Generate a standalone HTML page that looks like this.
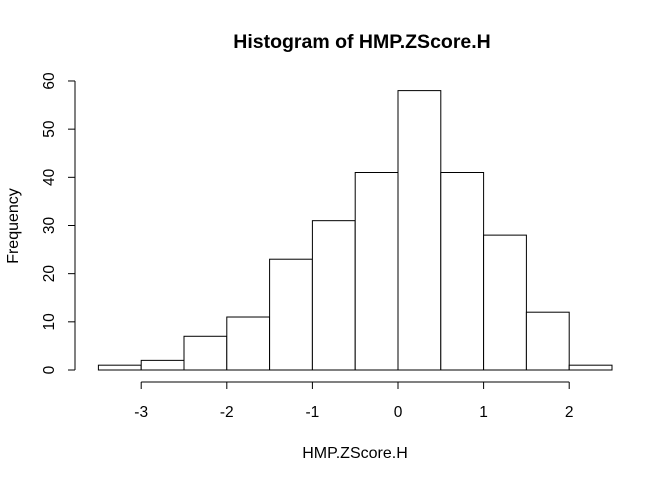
<!DOCTYPE html>
<html><head><meta charset="utf-8"><style>
html,body{margin:0;padding:0;background:#fff;}
svg text{font-family:"Liberation Sans",Arial,sans-serif;fill:#000;}
</style></head><body>
<svg id="chart" width="672" height="480" xmlns="http://www.w3.org/2000/svg">
<text x="362" y="48" text-anchor="middle" font-size="19.5" font-weight="bold">Histogram of HMP.ZScore.H</text>
<text x="355" y="458" text-anchor="middle" font-size="16">HMP.ZScore.H</text>
<text x="0" y="0" transform="translate(18,226) rotate(-90)" text-anchor="middle" font-size="16">Frequency</text>
<g id="bars"></g><g id="xaxis"></g><g id="yaxis"></g>
</svg>
<script>
const binStarts = [-3.5,-3,-2.5,-2,-1.5,-1,-0.5,0,0.5,1,1.5,2];
const counts = [1,2,7,11,23,31,41,58,41,28,12,1];
const binWidth = 0.5;
const xTicks = [-3,-2,-1,0,1,2];
const yTicks = [0,10,20,30,40,50,60];
const NS = "http://www.w3.org/2000/svg";
function xs(v){return 398 + v*85.6;}
function ys(v){return 370 - v*4.817;}
function mk(tag, attrs, parent){const e=document.createElementNS(NS,tag);for(const k in attrs)e.setAttribute(k,attrs[k]);parent.appendChild(e);return e;}
const bars=document.getElementById('bars');
binStarts.forEach((b,i)=>{
  const x0=xs(b), x1=xs(b+binWidth), y=ys(counts[i]);
  const r=mk('rect',{x:x0,y:y,width:x1-x0,height:ys(0)-y,fill:'#fff',stroke:'#000','stroke-width':1},bars);
  
  
});
const xa=document.getElementById('xaxis');
mk('line',{x1:xs(xTicks[0]),x2:xs(xTicks[xTicks.length-1]),y1:382,y2:382,stroke:'#000'},xa);
xTicks.forEach(t=>{
  mk('line',{x1:xs(t),x2:xs(t),y1:382,y2:389,stroke:'#000'},xa);
  const tx=mk('text',{x:xs(t),y:417,'text-anchor':'middle','font-size':15.5},xa);
  tx.textContent=t;
  
  
});
const ya=document.getElementById('yaxis');
mk('line',{x1:75,x2:75,y1:ys(yTicks[0]),y2:ys(yTicks[yTicks.length-1]),stroke:'#000'},ya);
yTicks.forEach(t=>{
  mk('line',{x1:68,x2:75,y1:ys(t),y2:ys(t),stroke:'#000'},ya);
  const tx=mk('text',{x:0,y:0,transform:'translate(54,'+ys(t)+') rotate(-90)','text-anchor':'middle','font-size':15.5},ya);
  tx.textContent=t;
  
  
});
</script>
</body></html>
